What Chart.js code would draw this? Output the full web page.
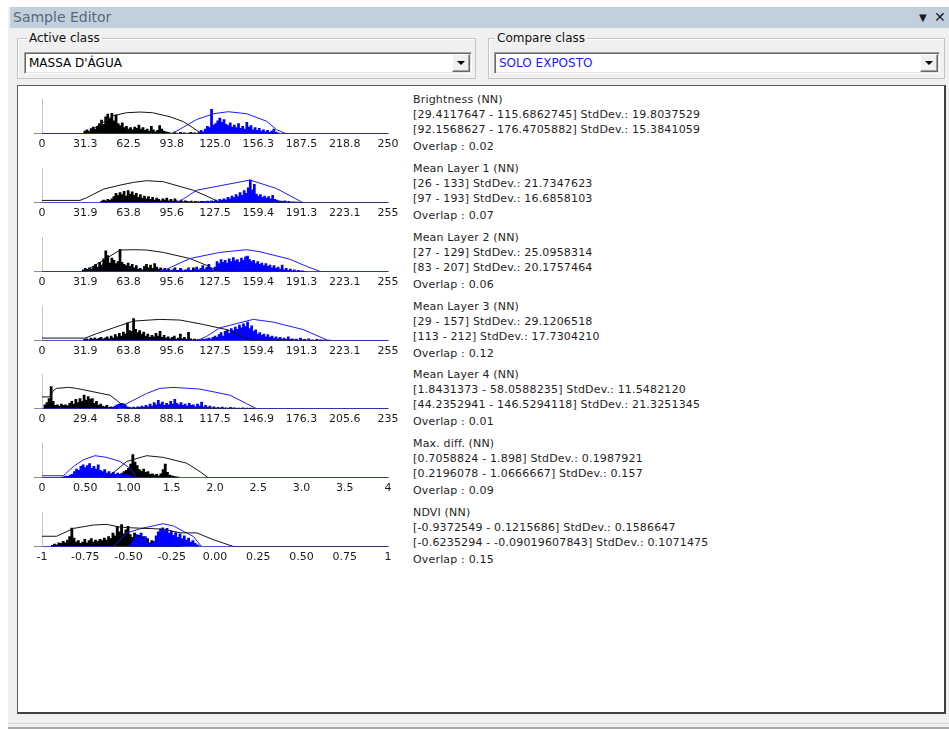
<!DOCTYPE html>
<html>
<head>
<meta charset="utf-8">
<title>Sample Editor</title>
<script src="https://cdn.jsdelivr.net/npm/chart.js@4.4.1/dist/chart.umd.min.js"></script>
<style>
  html, body { margin: 0; padding: 0; width: 949px; height: 729px; overflow: hidden; background: #ffffff;
               font-family: "DejaVu Sans", sans-serif; }
  .abs { position: absolute; box-sizing: border-box; }
  #frame { left: 8px; top: 7px; width: 941px; height: 722px; background: #f0f0f0; }
  #titlebar { left: 10px; top: 7px; width: 939px; height: 21px; background: #c2d0dd; }
  #titletext { left: 13px; top: 7px; height: 21px; line-height: 21px; font-size: 14px; color: #5a6876; }
  #pin { left: 919px; top: 7px; height: 21px; line-height: 22px; font-size: 10px; color: #1b1b1b; }
  #close { left: 934px; top: 7px; height: 21px; line-height: 21px; font-size: 14px; color: #1b1b1b; }
  .group { border: 1px solid #c4c4c4; box-shadow: inset 1px 1px 0 #ffffff; height: 41px; top: 38px; }
  .glabel { top: 31px; height: 15px; line-height: 15px; font-size: 12px; color: #111; background: #f0f0f0; padding: 0 2px; }
  .combo { top: 52px; height: 22px; background: #ffffff; border: 1px solid; border-color: #a0a0a0 #ffffff #ffffff #a0a0a0;
           box-shadow: inset 1px 1px 0 #696969, inset -1px -1px 0 #e3e3e3; }
  .ctext { top: 52px; height: 22px; line-height: 22px; font-size: 12px; }
  .cbtn { top: 54px; width: 18px; height: 18px; background: #f0f0f0; border: 1px solid; border-color: #ffffff #696969 #696969 #ffffff;
          box-shadow: inset -1px -1px 0 #a0a0a0; }
  .cbtn::after { content: ""; position: absolute; left: 4px; top: 6px; border-left: 4px solid transparent;
                 border-right: 4px solid transparent; border-top: 4px solid #000; }
  #panel { left: 17px; top: 85px; width: 929px; height: 629px; background: #ffffff; border: 1px solid #5c5c5c;
           border-right: 2px solid #404040; border-bottom: 2px solid #404040; }
  #rule1 { left: 8px; top: 723px; width: 941px; height: 1px; background: #d6d6d6; }
  #rule2 { left: 8px; top: 727px; width: 941px; height: 2px; background: #a8a8a8; }
  canvas.hist { position: absolute; }
  .info { position: absolute; left: 413px; font-size: 11px; line-height: 15px; color: #1e1e1e; letter-spacing: 0.17px; white-space: nowrap; }
  .info .ov { margin-top: 2px; }
</style>
</head>
<body>
<div class="abs" id="frame"></div>
<div class="abs" id="titlebar"></div>
<div class="abs" id="titletext">Sample Editor</div>
<div class="abs" id="pin">▼</div>
<div class="abs" id="close">✕</div>

<div class="abs group" style="left:17px;width:459px;"></div>
<div class="abs glabel" style="left:27px;">Active class</div>
<div class="abs combo" style="left:24px;width:448px;"></div>
<div class="abs ctext" style="left:29px;color:#000;">MASSA D'ÁGUA</div>
<div class="abs cbtn" style="left:452px;"></div>

<div class="abs group" style="left:488px;width:457px;"></div>
<div class="abs glabel" style="left:495px;">Compare class</div>
<div class="abs combo" style="left:494px;width:446px;"></div>
<div class="abs ctext" style="left:499px;color:#1a1aff;">SOLO EXPOSTO</div>
<div class="abs cbtn" style="left:920px;"></div>

<div class="abs" id="panel"></div>
<div class="abs" id="rule1"></div>
<div class="abs" id="rule2"></div>

<script>
// ---- Feature statistics text ----
const featureNames = ["Brightness (NN)", "Mean Layer 1 (NN)", "Mean Layer 2 (NN)", "Mean Layer 3 (NN)",
                      "Mean Layer 4 (NN)", "Max. diff. (NN)", "NDVI (NN)"];
const activeRanges = [
  "[29.4117647 - 115.6862745] StdDev.: 19.8037529",
  "[26 - 133] StdDev.: 21.7347623",
  "[27 - 129] StdDev.: 25.0958314",
  "[29 - 157] StdDev.: 29.1206518",
  "[1.8431373 - 58.0588235] StdDev.: 11.5482120",
  "[0.7058824 - 1.898] StdDev.: 0.1987921",
  "[-0.9372549 - 0.1215686] StdDev.: 0.1586647"
];
const compareRanges = [
  "[92.1568627 - 176.4705882] StdDev.: 15.3841059",
  "[97 - 193] StdDev.: 16.6858103",
  "[83 - 207] StdDev.: 20.1757464",
  "[113 - 212] StdDev.: 17.7304210",
  "[44.2352941 - 146.5294118] StdDev.: 21.3251345",
  "[0.2196078 - 1.0666667] StdDev.: 0.157",
  "[-0.6235294 - -0.09019607843] StdDev.: 0.1071475"
];
const overlapValues = ["0.02", "0.07", "0.06", "0.12", "0.01", "0.09", "0.15"];

// ---- Axis tick labels ----
const brightnessTicks = ["0", "31.3", "62.5", "93.8", "125.0", "156.3", "187.5", "218.8", "250"];
const layer1Ticks = ["0", "31.9", "63.8", "95.6", "127.5", "159.4", "191.3", "223.1", "255"];
const layer2Ticks = ["0", "31.9", "63.8", "95.6", "127.5", "159.4", "191.3", "223.1", "255"];
const layer3Ticks = ["0", "31.9", "63.8", "95.6", "127.5", "159.4", "191.3", "223.1", "255"];
const layer4Ticks = ["0", "29.4", "58.8", "88.1", "117.5", "146.9", "176.3", "205.6", "235"];
const maxDiffTicks = ["0", "0.50", "1.00", "1.5", "2.0", "2.5", "3.0", "3.5", "4"];
const ndviTicks = ["-1", "-0.75", "-0.50", "-0.25", "0.00", "0.25", "0.50", "0.75", "1"];

// ---- Histogram binning: first bin of each class and bin width ----
const binSteps = [1.5, 1.5, 1.5, 1.5, 1.4, 0.025, 0.0125];
const activeFrom = [31, 44, 30.5, 31.5, 2, 0.725, -0.94];
const compareFrom = [113.5, 116, 87, 114, 48.2, 0.25, -0.49];

// ---- Histogram counts (relative frequency, 0-100) ----
const brightnessActive = [8,12,6,15,20,14,22,30,40,28, 50,58,45,60,38,56,30,24,32,18, 22,14,18,12,20,16,26,14,18,10,
  14,8,22,12,6,10,24,14,8,6, 4,3,0,5,2,0,4,2,3,0, 2,4,2,3,1,2,1];
const brightnessCompare = [4,10,6,14,22,18,72,26,30,38, 46,34,42,28,24,32,20,26,18,30, 16,22,14,34,20,24,12,18,10,16,
  8,12,6,10,4,8,14,5,3];

const layer1Active = [5,8,6,10,7,12,18,28,22,30, 24,34,20,36,26,32,22,28,16,24, 14,20,12,18,10,16,8,14,10,6,
  12,8,14,6,10,5,12,6,4,8, 3,6,4,3,5,2,4,3,2,4, 2,3,1,2,3,1,2,1,1];
const layer1Compare = [3,2,4,2,5,3,6,4,8,5, 10,7,12,9,16,12,20,15,24,18, 30,22,36,28,44,67,38,54,26,20,
  24,16,20,14,18,12,22,10,8,6, 5,4,6,3,4,2,3,2,2,1,1];

const layer2Active = [6,10,5,12,8,16,22,14,28,20, 38,62,48,26,40,34,24,30,66,28, 22,18,26,16,22,12,18,8,10,6,
  16,22,12,20,10,24,14,8,12,6, 10,4,8,3,6,12,4,3,8,2, 5,3,2,4,12,3,6,2,8,3, 2,1,3,1];
const layer2Compare = [3,1,4,2,6,2,3,8,2,4, 10,3,2,6,12,4,3,8,14,6, 10,18,8,14,22,10,6,14,30,24,
  36,28,34,26,38,30,42,32,36,28, 40,34,44,46,36,30,34,24,30,22, 26,18,24,16,20,12,18,10,14,8,
  20,6,10,4,8,3,6,2,4,2, 3,1];

const layer3Active = [4,6,3,8,5,9,4,7,10,5, 8,12,6,14,8,18,12,22,14,26, 20,53,30,28,65,34,24,30,20,26,
  14,20,10,16,12,22,14,28,10,16, 8,12,6,10,14,5,8,20,6,10, 4,25,6,3,5,2,4,2];
const layer3Compare = [2,4,3,5,4,6,8,5,10,14, 10,18,24,14,28,32,22,36,30,40, 34,46,38,50,42,55,36,44,28,32,
  20,24,16,20,12,18,10,14,8,12, 6,10,5,8,4,12,4,6,3,5, 2,8,3,4,2,6,2,3,1,4, 2,3,1,3,1,2];

const layer4Active = [12,18,30,65,22,10,12,8,14,10, 12,9,16,22,14,28,18,30,22,40, 26,36,28,30,16,22,10,14,8,6,
  10,4,6,3,5,2];
const layer4Compare = [4,8,12,14,16,15,12,6,4,3, 5,3,6,4,8,5,10,6,14,8, 18,12,25,14,20,10,16,12,22,14,
  28,16,12,18,10,14,8,16,10,12, 6,14,8,20,6,10,4,8,3,6, 2,4,2,5,2,3,1,4,2,3, 1,2,1,3,1,2,1,2,1];

const maxDiffActive = [2,4,3,6,4,8,6,10,14,18, 22,28,40,68,46,36,24,20,26,16, 18,10,12,8,10,6,12,24,40,16,
  8,6,4,3,2];
const maxDiffCompare = [3,5,4,8,10,18,26,22,34,38, 30,36,42,28,34,26,38,22,18,24, 14,18,12,16,10,14,8,12,6,10,
  8,5,3];

const ndviActive = [4,8,6,12,10,16,12,20,30,55, 26,14,18,10,14,22,12,18,24,14, 20,16,22,18,26,20,30,24,40,32,
  60,44,65,38,50,60,36,28,40,24, 34,20,30,16,24,12,18,10,14,8, 10,6,8,5,6,4,5,3,4,2];
const ndviCompare = [6,14,24,36,28,40,22,30,12,8, 10,16,32,44,52,56,48,54,40,46, 34,42,28,38,24,32,20,26,14,18,
  10,6,3];

// ---- Smoothed distribution curves [value, height] ----
const brightnessActiveCurve = [[0,0],[31,0],[39.5,21],[51.5,53],[61,62],[71,64],[80,62],[92.5,50],[102,36],[109,18],[115.5,0],[250,0]];
const brightnessCompareCurve = [[0,0],[93.7,0],[102,19],[111.7,42],[123.8,59],[134.6,65],[147.9,59],[162.3,37],[169.5,12],[176.7,0],[250,0]];
const layer1ActiveCurve = [[0,7],[28,7],[32.9,15],[45.2,40],[57.5,52],[67.3,60],[77.1,65],[89.4,62],[101.7,48],[111.5,37],[121.3,20],[128.7,6],[131.1,0],[255,0]];
const layer1CompareCurve = [[0,0],[97,0],[101.7,5],[114,37],[153.3,67],[172.9,42],[192.5,0],[255,0]];
const layer2ActiveCurve = [[0,0],[30.5,0],[40.3,22],[57.5,64],[67.3,65],[77.1,64],[89.4,57],[109,39],[121.3,19],[131,0],[255,0]];
const layer2CompareCurve = [[0,0],[84.5,0],[92,8],[109,39],[131,57],[150.8,65],[160.6,59],[182.7,37],[197.5,12],[206,0],[255,0]];
const layer3ActiveCurve = [[0,8],[31.7,8],[40.3,21],[52.6,38],[67.3,58],[86.9,63],[101.7,61],[118.9,48],[136,33],[150.8,8],[155.7,0],[255,0]];
const layer3CompareCurve = [[0,0],[114,0],[121.3,13],[131,38],[155.7,63],[170.4,55],[192.5,33],[209.7,3],[212,0],[255,0]];
const layer4ActiveCurve = [[0,35],[5,35],[8,55],[10,60],[17.9,63],[23.5,60],[46.2,40],[50.7,25],[57.5,0],[235,0]];
const layer4CompareCurve = [[0,0],[50.7,0],[57.5,15],[71,45],[80,60],[89,63],[107.3,58],[127.7,40],[139,15],[145.8,0],[235,0]];
const maxDiffActiveCurve = [[0,0],[0.748,0],[0.863,23],[0.979,48],[1.21,65],[1.403,60],[1.673,43],[1.827,18],[1.923,0],[4,0]];
const maxDiffCompareCurve = [[0,6],[0.247,6],[0.362,33],[0.478,53],[0.613,65],[0.748,60],[0.902,48],[1.017,28],[1.095,0],[4,0]];
const ndviActiveCurve = [[-1,31],[-0.915,31],[-0.819,54],[-0.703,64],[-0.626,66],[-0.549,58],[-0.49,56],[-0.3,52],[-0.2,41],[-0.106,41],[-0.01,21],[0.106,1],[0.125,0],[1,0]];
const ndviCompareCurve = [[-1,0],[-0.588,0],[-0.51,41],[-0.433,53],[-0.299,68],[-0.24,61],[-0.124,30],[-0.077,0],[1,0]];

// ---- Assemble per-feature tables for the charts ----
const tickSets = [brightnessTicks, layer1Ticks, layer2Ticks, layer3Ticks, layer4Ticks, maxDiffTicks, ndviTicks];
const activeHists = [brightnessActive, layer1Active, layer2Active, layer3Active, layer4Active, maxDiffActive, ndviActive];
const compareHists = [brightnessCompare, layer1Compare, layer2Compare, layer3Compare, layer4Compare, maxDiffCompare, ndviCompare];
const activeCurves = [brightnessActiveCurve, layer1ActiveCurve, layer2ActiveCurve, layer3ActiveCurve, layer4ActiveCurve, maxDiffActiveCurve, ndviActiveCurve];
const compareCurves = [brightnessCompareCurve, layer1CompareCurve, layer2CompareCurve, layer3CompareCurve, layer4CompareCurve, maxDiffCompareCurve, ndviCompareCurve];
// which class curve is painted last along the baseline
const compareLineOnTop = [false, false, true, true, true, true, false];

Chart.defaults.font.family = '"DejaVu Sans", sans-serif';
Chart.defaults.font.size = 11;

const ACTIVE_COLOR = '#000000';
const COMPARE_COLOR = '#0000ff';
const ROW_BASE0 = 134;     // baseline of the first histogram (page px)
const ROW_PITCH = 68.85;   // vertical distance between feature rows
const PLOT_LEFT = 42;      // page x of the value axis
const PLOT_W = 346;        // plot width in px
const PLOT_H = 34;         // plot height in px
const CANVAS_LEFT = 20;

function binPoints(counts, from, step) {
  return counts.map((c, i) => ({ x: from + i * step, y: c }));
}
function curvePoints(curve) {
  return curve.map(p => ({ x: p[0], y: p[1] }));
}

for (let k = 0; k < featureNames.length; k++) {
  const base = Math.round(ROW_BASE0 + k * ROW_PITCH);
  const ticks = tickSets[k];
  const tickValues = ticks.map(t => parseFloat(t));
  const xMin = tickValues[0], xMax = tickValues[tickValues.length - 1];
  const barW = binSteps[k] * PLOT_W / (xMax - xMin);

  const canvas = document.createElement('canvas');
  canvas.className = 'hist';
  canvas.width = 385; canvas.height = 64;
  canvas.style.width = '385px'; canvas.style.height = '64px';
  canvas.style.left = CANVAS_LEFT + 'px';
  canvas.style.top = (base - 40) + 'px';
  document.body.appendChild(canvas);

  const info = document.createElement('div');
  info.className = 'info';
  info.style.top = (base - 42) + 'px';
  info.innerHTML = '<div></div><div></div><div></div><div class="ov"></div>';
  const rows = info.children;
  rows[0].textContent = featureNames[k];
  rows[1].textContent = activeRanges[k];
  rows[2].textContent = compareRanges[k];
  rows[3].textContent = 'Overlap : ' + overlapValues[k];
  document.body.appendChild(info);

  const compareOnTop = compareLineOnTop[k];
  const chart = new Chart(canvas, {
    type: 'bar',
    data: {
      datasets: [
        { type: 'line', label: 'active curve', data: curvePoints(activeCurves[k]), borderColor: '#141414',
          borderWidth: 1, pointRadius: 0, tension: 0, fill: false, order: compareOnTop ? 1 : 0 },
        { type: 'line', label: 'compare curve', data: curvePoints(compareCurves[k]), borderColor: '#1c1cff',
          borderWidth: 1, pointRadius: 0, tension: 0, fill: false, order: compareOnTop ? 0 : 1 },
        { type: 'bar', label: 'compare', data: binPoints(compareHists[k], compareFrom[k], binSteps[k]),
          backgroundColor: COMPARE_COLOR, borderWidth: 0, barThickness: barW, grouped: false, order: 2 },
        { type: 'bar', label: 'active', data: binPoints(activeHists[k], activeFrom[k], binSteps[k]),
          backgroundColor: ACTIVE_COLOR, borderWidth: 0, barThickness: barW, grouped: false, order: 3 }
      ]
    },
    options: {
      responsive: false,
      animation: false,
      devicePixelRatio: 1,
      layout: { padding: { left: 14, right: 17, top: 4, bottom: 0 } },
      plugins: { legend: { display: false }, tooltip: { enabled: false } },
      scales: {
        x: {
          type: 'linear', min: xMin, max: xMax, offset: false,
          afterBuildTicks: scale => { scale.ticks = tickValues.map(v => ({ value: v })); },
          ticks: { autoSkip: false, maxRotation: 0, minRotation: 0, padding: 4, color: '#1a1a1a',
                   callback: (v, i) => ticks[i] },
          grid: { display: false, drawTicks: false },
          border: { display: true, color: '#8c8c8c' }
        },
        y: {
          min: 0, max: 100,
          ticks: { display: false, stepSize: 100 },
          grid: { drawTicks: true, tickLength: 8,
                  color: c => (c.tick && c.tick.value === 0) ? '#8c8c8c' : 'rgba(0,0,0,0)' },
          border: { display: true, color: '#c4c4c4' }
        }
      }
    }
  });

  // Fit the plot area to the fixed row geometry, then place the canvas on the row baseline.
  const area = chart.chartArea;
  const pad = chart.options.layout.padding;
  pad.left += (PLOT_LEFT - CANVAS_LEFT) - area.left;
  pad.right += (area.right - area.left) - PLOT_W + ((PLOT_LEFT - CANVAS_LEFT) - area.left);
  pad.top += (area.bottom - area.top) - PLOT_H;
  chart.update();
  canvas.style.top = (base - Math.round(chart.chartArea.bottom)) + 'px';
}
</script>
</body>
</html>
